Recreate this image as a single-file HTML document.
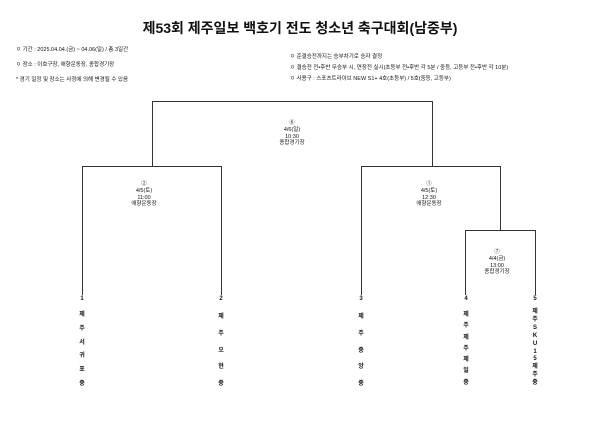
<!DOCTYPE html>
<html><head><meta charset="utf-8"><style>
body{margin:0;width:600px;height:425px;background:#fff;position:relative;overflow:hidden;font-family:"Liberation Sans","Noto Sans CJK KR",sans-serif;color:#111}
.t{position:absolute;white-space:nowrap;font-size:5.5px}
.h{position:absolute;background:#333;height:1px}
.v{position:absolute;background:#333;width:1px}
.c{position:absolute;text-align:center;font-size:5.5px;line-height:6.8px;transform:translateX(-50%);white-space:nowrap}
.n{position:absolute;font-size:6px;font-weight:bold;transform:translateX(-50%);text-align:center}
</style></head><body>
<div class="t" style="left:0;width:600px;text-align:center;top:18px;font-size:14px;font-weight:bold">제53회 제주일보 백호기 전도 청소년 축구대회(남중부)</div>
<div class="t" style="left:16px;top:45px">ㅇ 기간 : 2025.04.04.(금) ~ 04.06(일) / 총 3일간</div>
<div class="t" style="left:16px;top:60px">ㅇ 장소 : 이호구장, 애향운동장, 종합경기장</div>
<div class="t" style="left:16px;top:75px">* 경기 일정 및 장소는 사정에 의해 변경될 수 있음</div>
<div class="t" style="left:290px;top:52px">ㅇ 준결승전까지는 승부차기로 승자 결정</div>
<div class="t" style="left:290px;top:63px">ㅇ 결승전 전•후반 무승부 시, 연장전 실시(초등부 전•후반 각 5분 / 중등, 고등부 전•후반 각 10분)</div>
<div class="t" style="left:290px;top:74px">ㅇ 사용구 : 스포츠트라이브 NEW S1+ 4호(초등부) / 5호(중등, 고등부)</div>

<div class="h" style="left:152px;top:101px;width:281px"></div>
<div class="v" style="left:152px;top:101px;height:66px"></div>
<div class="v" style="left:432px;top:101px;height:66px"></div>
<div class="h" style="left:82px;top:166px;width:140px"></div>
<div class="v" style="left:82px;top:166px;height:129px"></div>
<div class="v" style="left:221px;top:166px;height:129px"></div>
<div class="h" style="left:361px;top:166px;width:140px"></div>
<div class="v" style="left:361px;top:166px;height:129px"></div>
<div class="v" style="left:500px;top:166px;height:64px"></div>
<div class="h" style="left:465px;top:230px;width:71px"></div>
<div class="v" style="left:465px;top:230px;height:65px"></div>
<div class="v" style="left:535px;top:230px;height:65px"></div>

<div class="c" style="left:292px;top:120px">⑥<br>4/6(일)<br>10:30<br>종합경기장</div>
<div class="c" style="left:144px;top:181px">②<br>4/5(토)<br>11:00<br>애향운동장</div>
<div class="c" style="left:429px;top:181px">①<br>4/5(토)<br>12:30<br>애향운동장</div>
<div class="c" style="left:497px;top:249px">⑦<br>4/4(금)<br>13:00<br>종합경기장</div>

<div class="n" style="left:82px;top:295px;line-height:8px">1</div>
<div class="n" style="left:82px;top:309px;line-height:13.8px">제<br>주<br>서<br>귀<br>포<br>중</div>
<div class="n" style="left:221px;top:295px;line-height:8px">2</div>
<div class="n" style="left:221px;top:309px;line-height:16.8px">제<br>주<br>오<br>현<br>중</div>
<div class="n" style="left:361px;top:295px;line-height:8px">3</div>
<div class="n" style="left:361px;top:309px;line-height:16.8px">제<br>주<br>중<br>앙<br>중</div>
<div class="n" style="left:466px;top:295px;line-height:8px">4</div>
<div class="n" style="left:466px;top:310px;line-height:11.3px">제<br>주<br>제<br>주<br>제<br>일<br>중</div>
<div class="n" style="left:535px;top:295px;line-height:8px">5</div>
<div class="n" style="left:535px;top:309px;line-height:7.9px">제<br>주<br>S<br>K<br>U<br>1<br>5<br>제<br>주<br>중</div>
</body></html>
